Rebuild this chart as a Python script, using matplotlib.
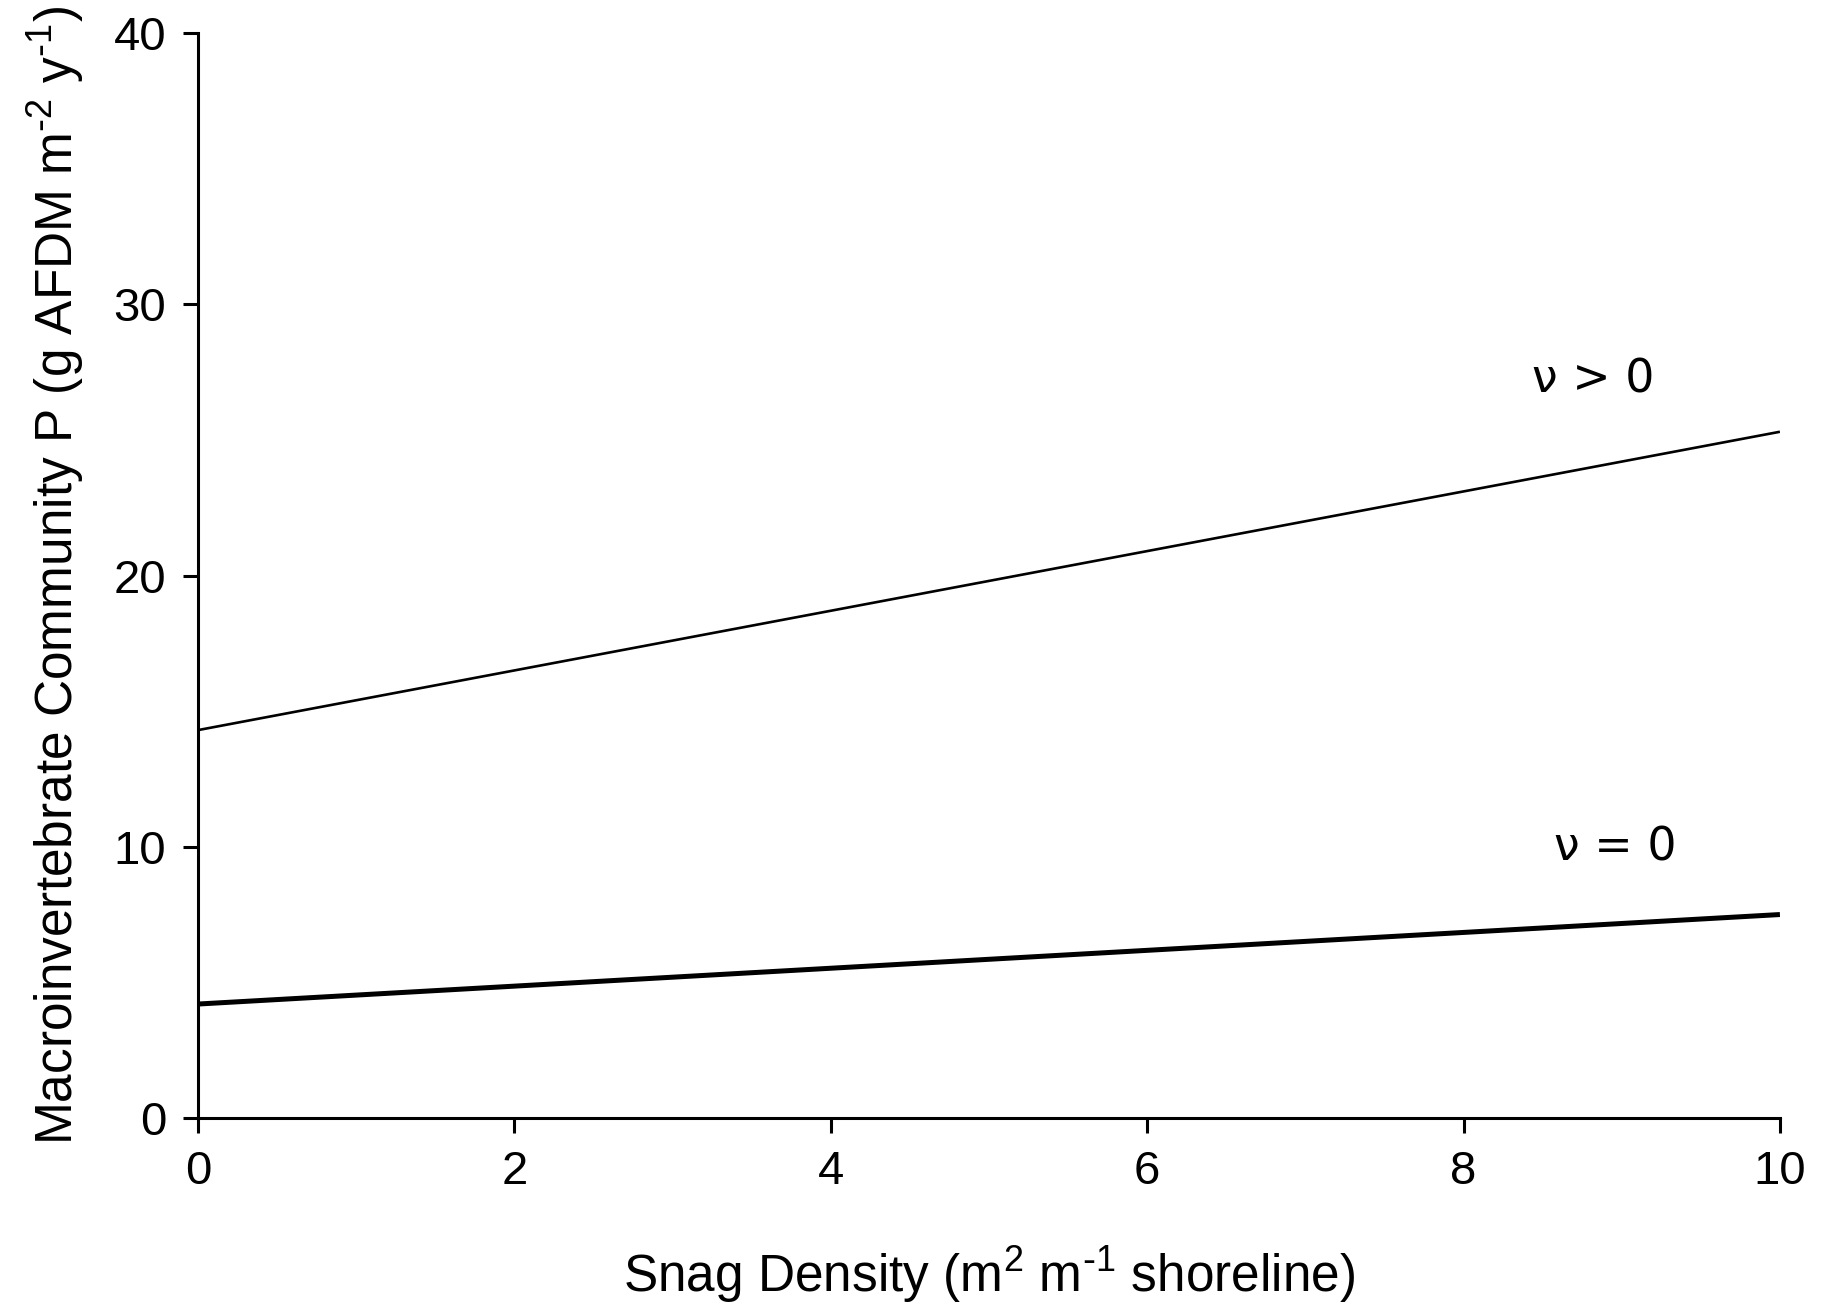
import matplotlib
matplotlib.use("Agg")
import matplotlib.pyplot as plt

# valores
snag = [0, 10]
p_nu_pos = [14.3, 25.3]
p_nu_zero = [4.2, 7.5]
x_ticks = [0, 2, 4, 6, 8, 10]
y_ticks = [0, 10, 20, 30, 40]

plt.rcParams['font.family'] = ['Liberation Sans', 'DejaVu Sans']
plt.rcParams['mathtext.default'] = 'regular'

fig = plt.figure(figsize=(18.28, 13.12), dpi=100)
ax = fig.add_axes([0.1083, 0.1479, 0.8654, 0.8269])

ax.plot(snag, p_nu_pos, color='black', lw=1.9, solid_capstyle='butt')
ax.plot(snag, p_nu_zero, color='black', lw=3.6, solid_capstyle='butt')

ax.text(8.82, 27.2, "ν > 0", fontsize=33, family='DejaVu Sans', ha='center', va='center')
ax.text(8.96, 9.95, "ν = 0", fontsize=33, family='DejaVu Sans', ha='center', va='center')

ax.set_xlim(0, 10)
ax.set_ylim(0, 40)
ax.set_xticks(x_ticks)
ax.set_yticks(y_ticks)
ax.spines['top'].set_visible(False)
ax.spines['right'].set_visible(False)
for s in ['left', 'bottom']:
    ax.spines[s].set_linewidth(2.2)
ax.tick_params(direction='out', length=11, width=2.2, labelsize=34, pad=12)

ax.set_xlabel(r"Snag Density (m$^{2}$ m$^{\text{-}1}$ shoreline)", fontsize=37, labelpad=36)
ax.set_ylabel(r"Macroinvertebrate Community P (g AFDM m$^{\text{-}2}$ y$^{\text{-}1}$)", fontsize=37, labelpad=20)

fig.savefig("out.png", dpi=100)
